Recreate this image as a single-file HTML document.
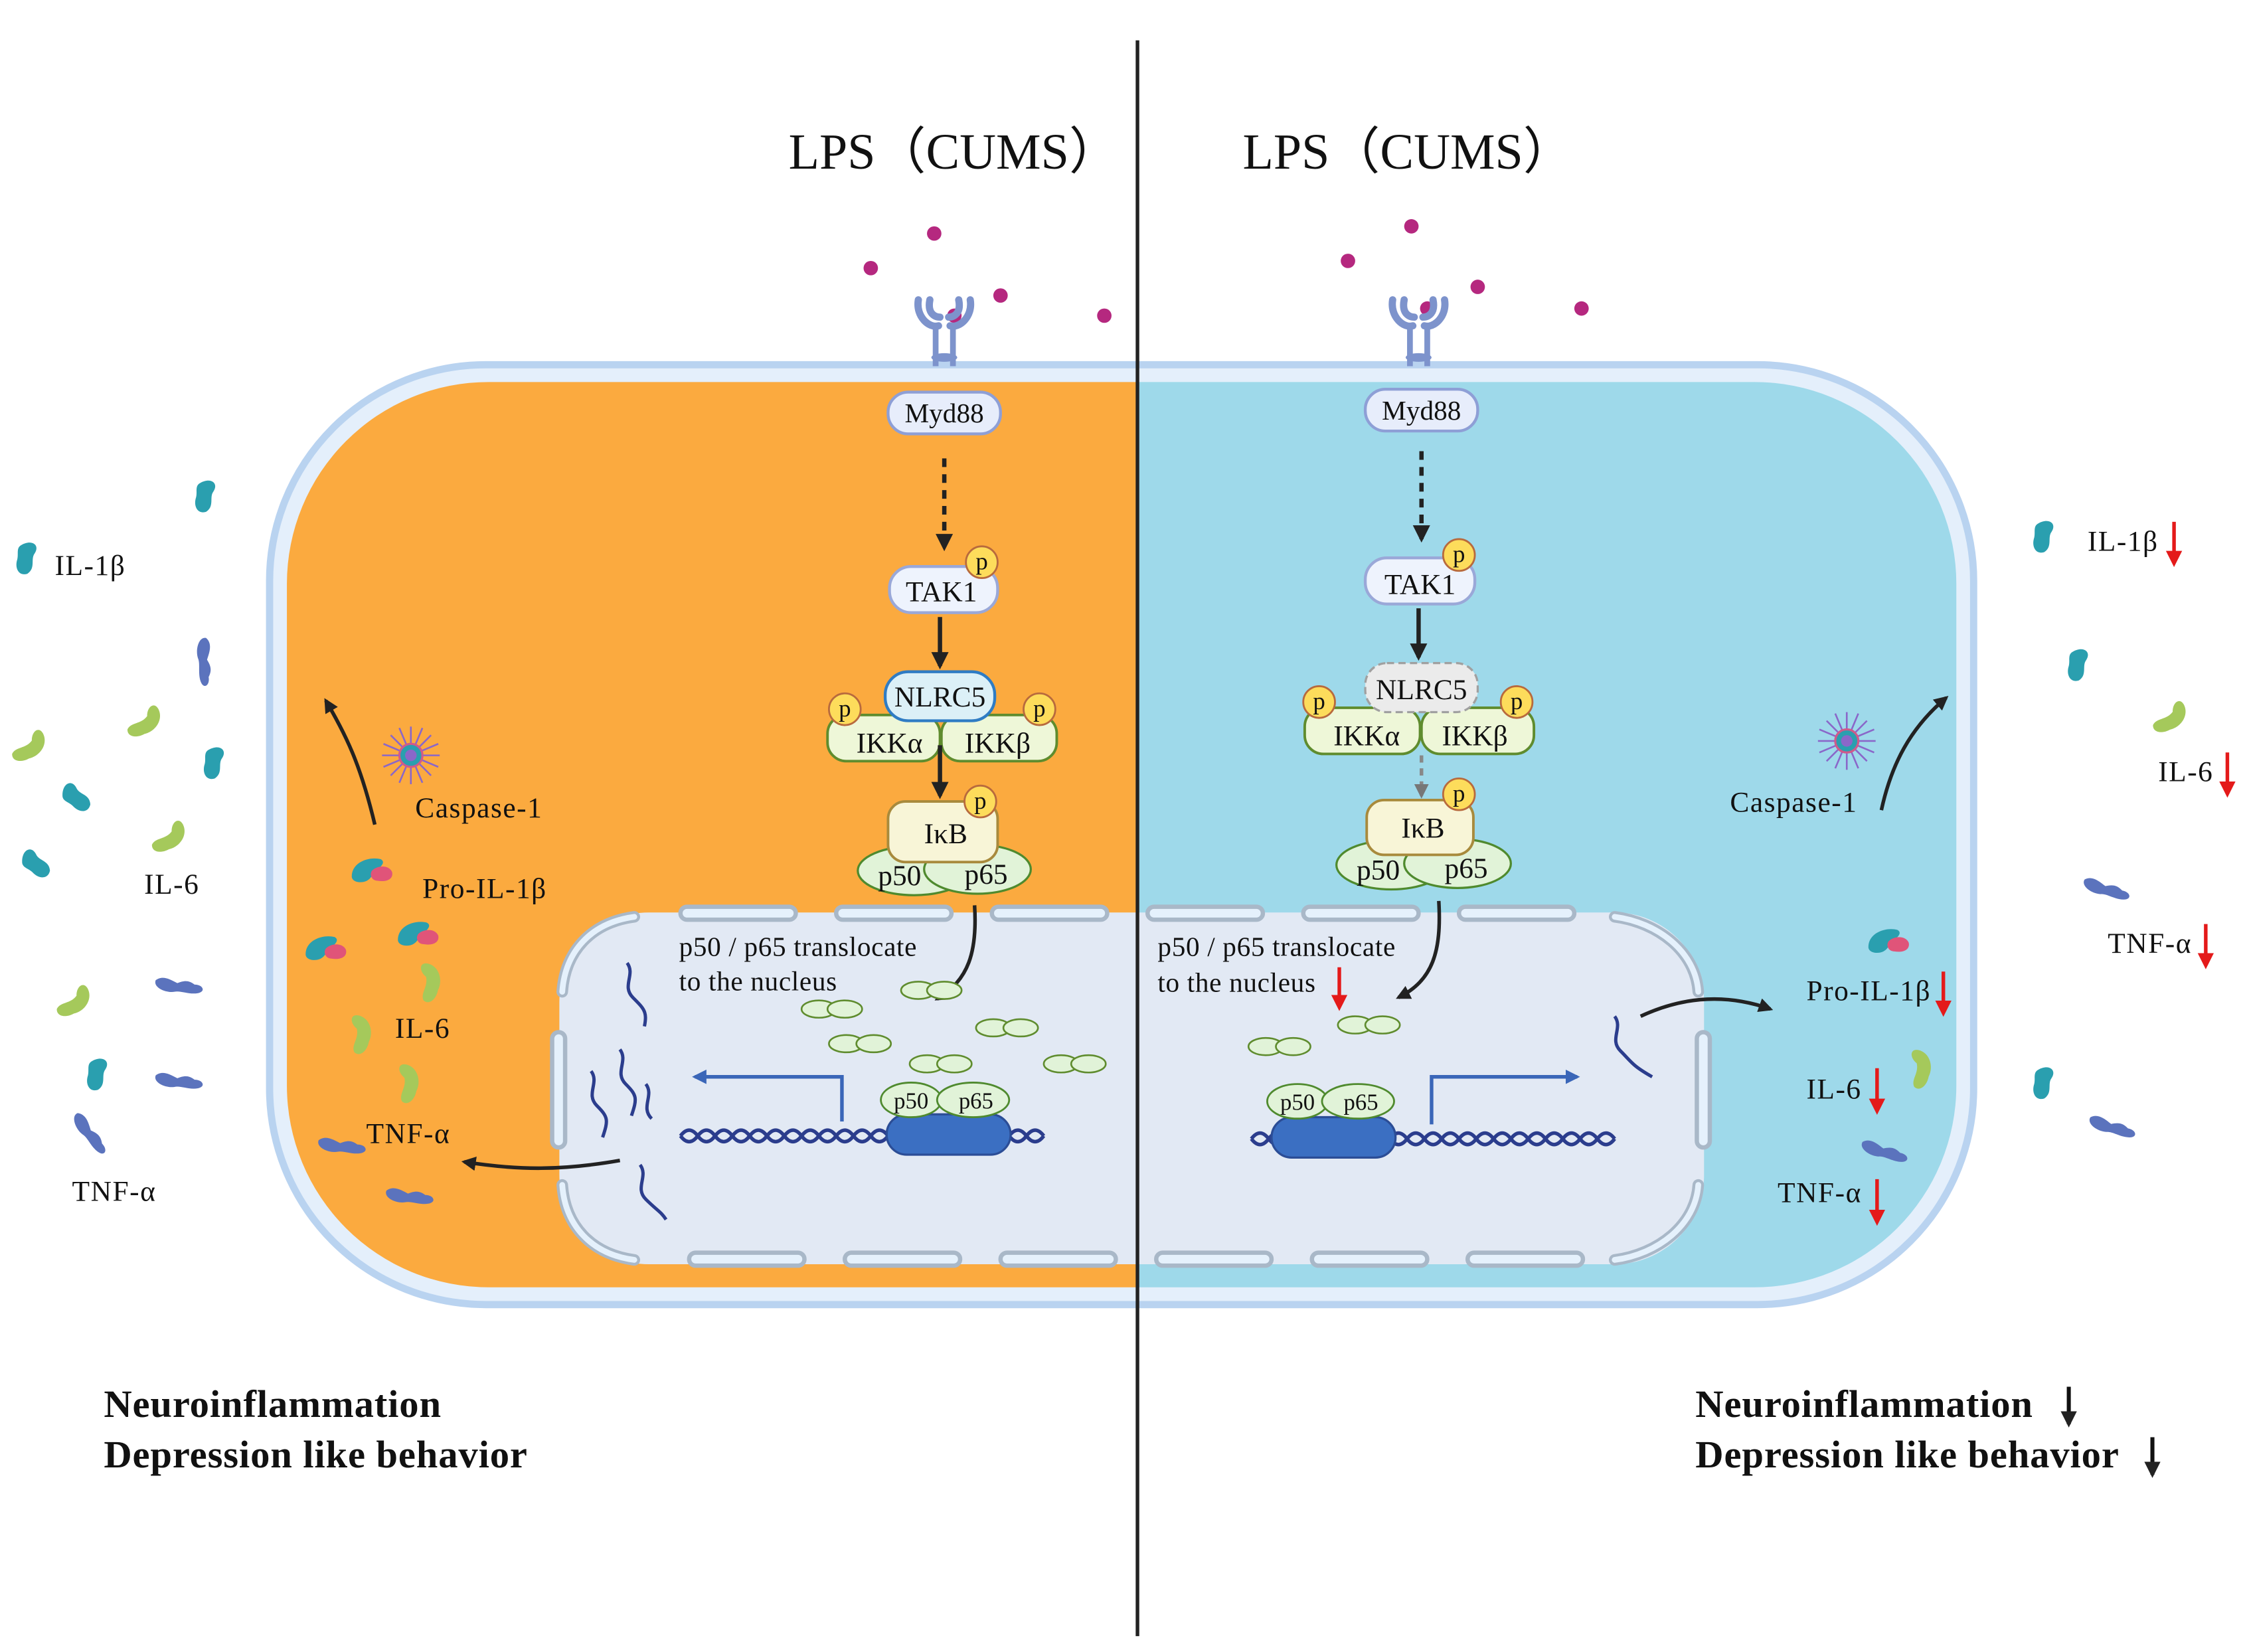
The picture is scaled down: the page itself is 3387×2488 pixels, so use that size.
<!DOCTYPE html>
<html><head><meta charset="utf-8"><style>
html,body{margin:0;padding:0;background:#fff;}
svg{display:block;}
text{font-family:"Liberation Serif",serif;fill:#111;}
.lb{font-size:20px;letter-spacing:0.7px;}
</style></head><body>
<svg width="3387" height="2488" viewBox="0 0 1560 1146" preserveAspectRatio="none" xmlns="http://www.w3.org/2000/svg">
<defs>
<marker id="ah" viewBox="0 0 10 10" refX="8" refY="5" markerWidth="4" markerHeight="4" orient="auto"><path d="M0,0 L10,5 L0,10 z" fill="#222"/></marker>
<marker id="ahg" viewBox="0 0 10 10" refX="8" refY="5" markerWidth="4" markerHeight="4" orient="auto"><path d="M0,0 L10,5 L0,10 z" fill="#777"/></marker>
<marker id="ahb" viewBox="0 0 10 10" refX="8" refY="5" markerWidth="4" markerHeight="4" orient="auto"><path d="M0,0 L10,5 L0,10 z" fill="#3a66b8"/></marker>
<marker id="ahr" viewBox="0 0 10 10" refX="7" refY="5" markerWidth="4.5" markerHeight="4.5" orient="auto"><path d="M0,0 L10,5 L0,10 z" fill="#e41a1a"/></marker>
<g id="il1"><path d="M-4,-10 C3,-14 9,-10 5,-4 C2,0 6,6 0,10 C-6,12 -9,6 -7,0 C-6,-4 -8,-8 -4,-10z" fill="#2a9faf"/></g>
<g id="il6"><path d="M-12,2 C-8,-2 -2,2 4,-2 C6,-8 12,-10 13,-4 C14,4 6,10 -2,9 C-8,10 -14,7 -12,2z" fill="#a5c95b"/></g>
<g id="tnf"><path d="M-17,-4 C-12,-8 -6,-4 -2,-2 C3,-4 6,-4 10,-1 C16,-1 18,4 12,5 C6,6 0,3 -4,4 C-10,5 -19,1 -17,-4z" fill="#5b73bd"/></g>
<g id="pro"><path d="M-14,4 C-14,-6 -2,-10 6,-8 C10,-6 6,-2 2,0 C0,4 -2,8 -8,8 C-12,8 -14,6 -14,4z" fill="#2a9faf"/><path d="M0,0 C4,-4 12,-4 14,1 C15,6 10,8 4,7 C0,7 -2,3 0,0z" fill="#e05479"/></g>
<g id="pp"><circle r="11" fill="#fddc5b" stroke="#b86a3d" stroke-width="1.3"/><text x="0" y="5" font-size="17" text-anchor="middle">p</text></g>
<g id="rec"><path d="M-6,18 L-6,46 M6,18 L6,46" stroke="#7d93cc" stroke-width="4"/><path d="M-18,0 C-20,12 -10,20 -4,18 M18,0 C20,12 10,20 4,18 M-10,0 C-12,10 -6,12 -3,12 M10,0 C12,10 6,12 3,12" stroke="#7d93cc" stroke-width="5" fill="none" stroke-linecap="round"/><ellipse cx="0" cy="40" rx="9" ry="3" fill="#7d93cc"/></g>
<g id="casp"><g stroke="#8a67c9" stroke-width="1.2"><line x1="-20" y1="0" x2="20" y2="0"/><line x1="0" y1="-20" x2="0" y2="20"/><line x1="-14" y1="-14" x2="14" y2="14"/><line x1="-14" y1="14" x2="14" y2="-14"/><line x1="-19" y1="-8" x2="19" y2="8"/><line x1="-8" y1="-19" x2="8" y2="19"/><line x1="-19" y1="8" x2="19" y2="-8"/><line x1="8" y1="-19" x2="-8" y2="19"/></g><circle r="8" fill="#2a9faf" stroke="#d05a8a" stroke-width="1.5"/><circle r="4" fill="#8a67c9"/></g>
</defs>

<rect x="187" y="253" width="1182" height="652" rx="150" fill="#e4effb" stroke="#b9d3f0" stroke-width="5"/>
<clipPath id="cl"><rect x="199" y="265" width="1158" height="628" rx="140"/></clipPath>
<g clip-path="url(#cl)">
<rect x="190" y="260" width="599" height="640" fill="#fbaa3f"/>
<rect x="789" y="260" width="590" height="640" fill="#9ed9ea"/>
</g>
<rect x="388" y="633" width="794" height="244" rx="62" fill="#e2e9f4"/>
<g fill="#e5f1fc" stroke="#a9b8c8" stroke-width="3">
<rect x="472" y="629" width="80" height="9" rx="4.5"/><rect x="580" y="629" width="80" height="9" rx="4.5"/><rect x="688" y="629" width="80" height="9" rx="4.5"/>
<rect x="796" y="629" width="80" height="9" rx="4.5"/><rect x="904" y="629" width="80" height="9" rx="4.5"/><rect x="1012" y="629" width="80" height="9" rx="4.5"/>
<rect x="478" y="869" width="80" height="9" rx="4.5"/><rect x="586" y="869" width="80" height="9" rx="4.5"/><rect x="694" y="869" width="80" height="9" rx="4.5"/>
<rect x="802" y="869" width="80" height="9" rx="4.5"/><rect x="910" y="869" width="80" height="9" rx="4.5"/><rect x="1018" y="869" width="80" height="9" rx="4.5"/>
<rect x="383" y="716" width="9" height="80" rx="4.5"/><rect x="1177" y="716" width="9" height="80" rx="4.5"/>
</g>
<g fill="none" stroke="#a9b8c8" stroke-width="8" stroke-linecap="round"><path d="M390,688 C392,660 410,640 440,636"/><path d="M1120,636 C1150,640 1176,660 1178,688"/><path d="M390,822 C392,850 410,870 440,874"/><path d="M1120,874 C1150,870 1176,850 1178,822"/></g>
<g fill="none" stroke="#e5f1fc" stroke-width="4" stroke-linecap="round"><path d="M390,688 C392,660 410,640 440,636"/><path d="M1120,636 C1150,640 1176,660 1178,688"/><path d="M390,822 C392,850 410,870 440,874"/><path d="M1120,874 C1150,870 1176,850 1178,822"/></g>

<line x1="789" y1="28" x2="789" y2="1135" stroke="#222" stroke-width="2.5"/>

<text x="547" y="117" font-size="35">LPS（CUMS）</text>
<text x="862" y="117" font-size="35">LPS（CUMS）</text>

<g fill="#b5287f"><circle cx="648" cy="162" r="5"/><circle cx="604" cy="186" r="5"/><circle cx="694" cy="205" r="5"/><circle cx="766" cy="219" r="5"/><circle cx="662" cy="219" r="5"/>
<circle cx="979" cy="157" r="5"/><circle cx="935" cy="181" r="5"/><circle cx="1025" cy="199" r="5"/><circle cx="1097" cy="214" r="5"/><circle cx="990" cy="214" r="5"/></g>
<use href="#rec" x="655" y="208"/><use href="#rec" x="984" y="208"/>

<rect x="616" y="272" width="78" height="29" rx="14" fill="#e7edfb" stroke="#8e9fd6" stroke-width="2"/>
<text x="655" y="293" font-size="19" text-anchor="middle">Myd88</text>
<line x1="655" y1="318" x2="655" y2="380" stroke="#222" stroke-width="3" stroke-dasharray="6,5" marker-end="url(#ah)"/>
<rect x="617" y="393" width="75" height="32" rx="15" fill="#eef3fd" stroke="#9aa8d8" stroke-width="2"/>
<text x="653" y="417" font-size="20" text-anchor="middle">TAK1</text>
<use href="#pp" x="681" y="390"/>
<line x1="652" y1="428" x2="652" y2="462" stroke="#222" stroke-width="3" marker-end="url(#ah)"/>
<rect x="574" y="496" width="78" height="32" rx="13" fill="#eef7d8" stroke="#5f8c2e" stroke-width="1.8"/>
<rect x="653" y="496" width="80" height="32" rx="13" fill="#eef7d8" stroke="#5f8c2e" stroke-width="1.8"/>
<text x="617" y="522" font-size="20" text-anchor="middle">IKKα</text>
<text x="692" y="522" font-size="20" text-anchor="middle">IKKβ</text>
<rect x="614" y="466" width="76" height="34" rx="16" fill="#dcf0f7" stroke="#2f7cc4" stroke-width="2"/>
<text x="652" y="490" font-size="20" text-anchor="middle">NLRC5</text>
<use href="#pp" x="586" y="492"/><use href="#pp" x="721" y="492"/>
<line x1="652" y1="517" x2="652" y2="552" stroke="#222" stroke-width="3" marker-end="url(#ah)"/>
<ellipse cx="634" cy="604" rx="39" ry="17" fill="#e1f3d8" stroke="#4f8a2e" stroke-width="1.5"/>
<ellipse cx="678" cy="603" rx="37" ry="17" fill="#e1f3d8" stroke="#4f8a2e" stroke-width="1.5"/>
<text x="624" y="614" font-size="20" text-anchor="middle">p50</text><text x="684" y="613" font-size="20" text-anchor="middle">p65</text>
<rect x="616" y="556" width="76" height="42" rx="12" fill="#f8f5d7" stroke="#a88a3c" stroke-width="1.8"/>
<text x="656" y="585" font-size="20" text-anchor="middle">IκB</text>
<use href="#pp" x="680" y="556"/>

<rect x="947" y="270" width="78" height="29" rx="14" fill="#e7edfb" stroke="#8e9fd6" stroke-width="2"/>
<text x="986" y="291" font-size="19" text-anchor="middle">Myd88</text>
<line x1="986" y1="313" x2="986" y2="374" stroke="#222" stroke-width="3" stroke-dasharray="6,5" marker-end="url(#ah)"/>
<rect x="947" y="387" width="76" height="32" rx="15" fill="#eef3fd" stroke="#9aa8d8" stroke-width="2"/>
<text x="985" y="412" font-size="20" text-anchor="middle">TAK1</text>
<use href="#pp" x="1012" y="385"/>
<line x1="984" y1="422" x2="984" y2="456" stroke="#222" stroke-width="3" marker-end="url(#ah)"/>
<rect x="905" y="491" width="80" height="32" rx="13" fill="#eef7d8" stroke="#5f8c2e" stroke-width="1.8"/>
<rect x="986" y="491" width="78" height="32" rx="13" fill="#eef7d8" stroke="#5f8c2e" stroke-width="1.8"/>
<text x="948" y="517" font-size="20" text-anchor="middle">IKKα</text>
<text x="1023" y="517" font-size="20" text-anchor="middle">IKKβ</text>
<rect x="947" y="460" width="78" height="34" rx="15" fill="#ebebeb" stroke="#a0a0a0" stroke-width="1.5" stroke-dasharray="5,3"/>
<text x="986" y="485" font-size="20" text-anchor="middle">NLRC5</text>
<use href="#pp" x="915" y="487"/><use href="#pp" x="1052" y="487"/>
<line x1="986" y1="524" x2="986" y2="552" stroke="#888" stroke-width="2.5" stroke-dasharray="5,4" marker-end="url(#ahg)"/>
<ellipse cx="965" cy="600" rx="38" ry="17" fill="#e1f3d8" stroke="#4f8a2e" stroke-width="1.5"/>
<ellipse cx="1011" cy="599" rx="37" ry="17" fill="#e1f3d8" stroke="#4f8a2e" stroke-width="1.5"/>
<text x="956" y="610" font-size="20" text-anchor="middle">p50</text><text x="1017" y="609" font-size="20" text-anchor="middle">p65</text>
<rect x="948" y="555" width="74" height="38" rx="12" fill="#f8f5d7" stroke="#a88a3c" stroke-width="1.8"/>
<text x="987" y="581" font-size="20" text-anchor="middle">IκB</text>
<use href="#pp" x="1012" y="551"/>

<text x="471" y="663" font-size="19" letter-spacing="0.3">p50 / p65 translocate</text>
<text x="471" y="687" font-size="19" letter-spacing="0.3">to the nucleus</text>
<path d="M676,628 C678,660 672,680 650,693" fill="none" stroke="#222" stroke-width="2.5" marker-end="url(#ah)"/>
<g fill="#e1f3d8" stroke="#5f8c2e" stroke-width="1.2">
<ellipse cx="637" cy="687" rx="12" ry="6"/><ellipse cx="655" cy="687" rx="12" ry="6"/>
<ellipse cx="568" cy="700" rx="12" ry="6"/><ellipse cx="586" cy="700" rx="12" ry="6"/>
<ellipse cx="587" cy="724" rx="12" ry="6"/><ellipse cx="606" cy="724" rx="12" ry="6"/>
<ellipse cx="689" cy="713" rx="12" ry="6"/><ellipse cx="708" cy="713" rx="12" ry="6"/>
<ellipse cx="643" cy="738" rx="12" ry="6"/><ellipse cx="662" cy="738" rx="12" ry="6"/>
<ellipse cx="736" cy="738" rx="12" ry="6"/><ellipse cx="755" cy="738" rx="12" ry="6"/>
<ellipse cx="878" cy="726" rx="12" ry="6"/><ellipse cx="897" cy="726" rx="12" ry="6"/>
<ellipse cx="940" cy="711" rx="12" ry="6"/><ellipse cx="959" cy="711" rx="12" ry="6"/>
</g>
<path d="M472,788 q6,-8 12,0 t12,0 t12,0 t12,0 t12,0 t12,0 t12,0 t12,0 t12,0 t12,0 t12,0 t12,0 t12,0 t12,0 t12,0 t12,0 t12,0 t12,0 t12,0 t12,0 t12,0" fill="none" stroke="#2b3d8d" stroke-width="2.5"/>
<path d="M472,788 q6,8 12,0 t12,0 t12,0 t12,0 t12,0 t12,0 t12,0 t12,0 t12,0 t12,0 t12,0 t12,0 t12,0 t12,0 t12,0 t12,0 t12,0 t12,0 t12,0 t12,0 t12,0" fill="none" stroke="#2b3d8d" stroke-width="2.5"/>
<rect x="615" y="773" width="86" height="28" rx="14" fill="#3b6fc2" stroke="#2b4d96" stroke-width="1.5"/>
<ellipse cx="632" cy="763" rx="21" ry="12" fill="#e1f3d8" stroke="#4f8a2e" stroke-width="1.3"/>
<ellipse cx="675" cy="763" rx="25" ry="12" fill="#e1f3d8" stroke="#4f8a2e" stroke-width="1.3"/>
<text x="632" y="769" font-size="16" text-anchor="middle">p50</text><text x="677" y="769" font-size="16" text-anchor="middle">p65</text>
<path d="M584,778 L584,747 L482,747" fill="none" stroke="#3a66b8" stroke-width="2.5" marker-end="url(#ahb)"/>
<g fill="none" stroke="#2b3d8d" stroke-width="2.3">
<path d="M435,668 c6,8 -4,16 4,24 s10,10 8,20"/>
<path d="M430,728 c6,8 -4,16 4,24 s8,10 4,22"/>
<path d="M410,743 c6,8 -4,16 4,24 s8,10 4,22"/>
<path d="M448,752 c6,8 -4,16 4,24"/>
<path d="M444,808 c6,8 -4,16 4,24 s10,8 14,14"/>
</g>
<path d="M430,805 C390,812 360,812 322,806" fill="none" stroke="#222" stroke-width="2.5" marker-end="url(#ah)"/>

<text x="803" y="663" font-size="19" letter-spacing="0.3">p50 / p65 translocate</text>
<text x="803" y="688" font-size="19" letter-spacing="0.3">to the nucleus</text>
<line x1="929" y1="671" x2="929" y2="698" stroke="#e41a1a" stroke-width="2.5" marker-end="url(#ahr)"/>
<path d="M998,625 C1000,660 994,680 970,692" fill="none" stroke="#222" stroke-width="2.5" marker-end="url(#ah)"/>
<path d="M868,790 q6,-8 12,0 t12,0 t12,0 t12,0 t12,0 t12,0 t12,0 t12,0 t12,0 t12,0 t12,0 t12,0 t12,0 t12,0 t12,0 t12,0 t12,0 t12,0 t12,0 t12,0 t12,0" fill="none" stroke="#2b3d8d" stroke-width="2.5"/>
<path d="M868,790 q6,8 12,0 t12,0 t12,0 t12,0 t12,0 t12,0 t12,0 t12,0 t12,0 t12,0 t12,0 t12,0 t12,0 t12,0 t12,0 t12,0 t12,0 t12,0 t12,0 t12,0 t12,0" fill="none" stroke="#2b3d8d" stroke-width="2.5"/>
<rect x="882" y="775" width="86" height="28" rx="14" fill="#3b6fc2" stroke="#2b4d96" stroke-width="1.5"/>
<ellipse cx="900" cy="764" rx="21" ry="12" fill="#e1f3d8" stroke="#4f8a2e" stroke-width="1.3"/>
<ellipse cx="942" cy="764" rx="25" ry="12" fill="#e1f3d8" stroke="#4f8a2e" stroke-width="1.3"/>
<text x="900" y="770" font-size="16" text-anchor="middle">p50</text><text x="944" y="770" font-size="16" text-anchor="middle">p65</text>
<path d="M993,780 L993,747 L1094,747" fill="none" stroke="#3a66b8" stroke-width="2.5" marker-end="url(#ahb)"/>
<path d="M1120,705 c6,8 -4,16 4,24 s8,10 22,18" fill="none" stroke="#2b3d8d" stroke-width="2.3"/>
<path d="M1138,705 C1170,690 1200,690 1228,700" fill="none" stroke="#222" stroke-width="2.5" marker-end="url(#ah)"/>

<path d="M260,572 C250,530 240,510 226,486" fill="none" stroke="#222" stroke-width="2.5" marker-end="url(#ah)"/>
<use href="#casp" x="285" y="524"/>
<text x="288" y="567" class="lb">Caspase-1</text>
<use href="#pro" x="258" y="604"/>
<text x="293" y="623" class="lb">Pro-IL-1β</text>
<use href="#pro" x="226" y="658"/><use href="#pro" x="290" y="648"/>
<use href="#il6" x="296" y="682" transform="rotate(-70 296 682)"/>
<use href="#il6" x="248" y="718" transform="rotate(-70 248 718)"/>
<use href="#il6" x="281" y="752" transform="rotate(-70 281 752)"/>
<text x="274" y="720" class="lb">IL-6</text>
<use href="#tnf" x="238" y="795"/>
<text x="254" y="793" class="lb">TNF-α</text>
<use href="#tnf" x="285" y="830"/>

<use href="#il1" x="143" y="345"/><use href="#il1" x="19" y="388"/>
<text x="38" y="399" class="lb">IL-1β</text>
<use href="#tnf" x="142" y="460" transform="rotate(80 142 460)"/>
<use href="#il6" x="99" y="500" transform="rotate(-20 99 500)"/>
<use href="#il6" x="19" y="517" transform="rotate(-20 19 517)"/>
<use href="#il1" x="149" y="530"/>
<use href="#il1" x="54" y="553" transform="rotate(-60 54 553)"/>
<use href="#il6" x="116" y="580" transform="rotate(-20 116 580)"/>
<use href="#il1" x="26" y="599" transform="rotate(-60 26 599)"/>
<text x="100" y="620" class="lb">IL-6</text>
<use href="#tnf" x="125" y="684"/>
<use href="#il6" x="50" y="694" transform="rotate(-20 50 694)"/>
<use href="#il1" x="68" y="746"/>
<use href="#tnf" x="125" y="750"/>
<use href="#tnf" x="63" y="787" transform="rotate(45 63 787)"/>
<text x="50" y="833" class="lb">TNF-α</text>

<use href="#casp" x="1281" y="514"/>
<text x="1200" y="563" class="lb">Caspase-1</text>
<path d="M1305,562 C1312,530 1325,505 1350,484" fill="none" stroke="#222" stroke-width="2.5" marker-end="url(#ah)"/>
<use href="#pro" x="1310" y="653"/>
<text x="1253" y="694" class="lb">Pro-IL-1β</text>
<line x1="1348" y1="674" x2="1348" y2="702" stroke="#e41a1a" stroke-width="2.5" marker-end="url(#ahr)"/>
<text x="1253" y="762" class="lb">IL-6</text>
<line x1="1302" y1="741" x2="1302" y2="770" stroke="#e41a1a" stroke-width="2.5" marker-end="url(#ahr)"/>
<use href="#il6" x="1330" y="742" transform="rotate(-70 1330 742)"/>
<use href="#tnf" x="1308" y="799" transform="rotate(10 1308 799)"/>
<text x="1233" y="834" class="lb">TNF-α</text>
<line x1="1302" y1="818" x2="1302" y2="847" stroke="#e41a1a" stroke-width="2.5" marker-end="url(#ahr)"/>

<use href="#il1" x="1418" y="373"/>
<text x="1448" y="382" class="lb">IL-1β</text>
<line x1="1508" y1="362" x2="1508" y2="390" stroke="#e41a1a" stroke-width="2.5" marker-end="url(#ahr)"/>
<use href="#il1" x="1442" y="462"/>
<use href="#il6" x="1504" y="497" transform="rotate(-20 1504 497)"/>
<text x="1497" y="542" class="lb">IL-6</text>
<line x1="1545" y1="522" x2="1545" y2="550" stroke="#e41a1a" stroke-width="2.5" marker-end="url(#ahr)"/>
<use href="#tnf" x="1462" y="617" transform="rotate(10 1462 617)"/>
<text x="1462" y="661" class="lb">TNF-α</text>
<line x1="1530" y1="641" x2="1530" y2="669" stroke="#e41a1a" stroke-width="2.5" marker-end="url(#ahr)"/>
<use href="#il1" x="1418" y="752"/>
<use href="#tnf" x="1466" y="782" transform="rotate(10 1466 782)"/>

<text x="72" y="983" font-size="27" font-weight="bold" letter-spacing="0.4">Neuroinflammation</text>
<text x="72" y="1018" font-size="27" font-weight="bold" letter-spacing="0.4">Depression like behavior</text>
<text x="1176" y="983" font-size="27" font-weight="bold" letter-spacing="0.4">Neuroinflammation</text>
<text x="1176" y="1018" font-size="27" font-weight="bold" letter-spacing="0.4">Depression like behavior</text>
<line x1="1435" y1="962" x2="1435" y2="988" stroke="#111" stroke-width="2.8" marker-end="url(#ah)"/>
<line x1="1493" y1="997" x2="1493" y2="1023" stroke="#111" stroke-width="2.8" marker-end="url(#ah)"/>
</svg>
</body></html>
